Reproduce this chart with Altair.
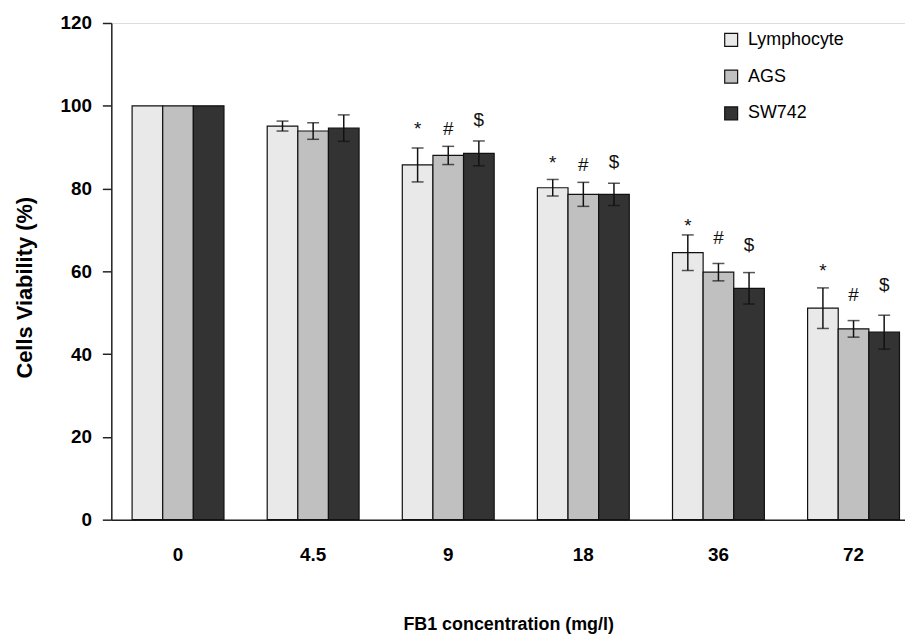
import altair as alt
import pandas as pd

concentrations = ["0", "4.5", "9", "18", "36", "72"]
cell_lines = ["Lymphocyte", "AGS", "SW742"]

lymphocyte = [100, 95.1, 85.7, 80.2, 64.5, 51.1]
lymphocyte_err = [0, 1.2, 4.1, 2.0, 4.3, 4.9]
ags = [100, 93.9, 88.0, 78.6, 59.8, 46.1]
ags_err = [0, 2.0, 2.2, 2.9, 2.1, 2.0]
sw742 = [100, 94.6, 88.5, 78.6, 55.9, 45.3]
sw742_err = [0, 3.2, 3.0, 2.7, 3.8, 4.1]

# significance markers and the value level at which each was printed
sig_symbols = {"Lymphocyte": "*", "AGS": "#", "SW742": "$"}
lymphocyte_sig_at = [None, None, 94.3, 86.1, 71.0, 60.1]
ags_sig_at = [None, None, 94.3, 85.7, 68.1, 54.2]
sw742_sig_at = [None, None, 96.5, 86.5, 66.3, 56.6]

fills = ["#e9e9e9", "#c0c0c0", "#333333"]

rows = []
for line, vals, errs, sigs in [
    ("Lymphocyte", lymphocyte, lymphocyte_err, lymphocyte_sig_at),
    ("AGS", ags, ags_err, ags_sig_at),
    ("SW742", sw742, sw742_err, sw742_sig_at),
]:
    for c, v, e, s in zip(concentrations, vals, errs, sigs):
        rows.append({
            "conc": c, "line": line, "value": v, "err": e,
            "lo": v - e, "hi": v + e,
            "sig": sig_symbols[line] if s is not None else "",
            "sig_at": s,
        })
df = pd.DataFrame(rows)

FONT = "Liberation Sans"

x = alt.X("conc:N", sort=concentrations,
          scale=alt.Scale(paddingInner=0.32, paddingOuter=0.0974, align=0.79),
          axis=alt.Axis(title="FB1 concentration (mg/l)", labelAngle=0,
                        ticks=False, tickSize=0, labelPadding=26,
                        titlePadding=52, titleFontSize=18, titleFontWeight="bold",
                        labelFontSize=19, labelFontWeight="bold",
                        labelColor="#000000", titleColor="#000000",
                        domainColor="#222222", domainWidth=1.5))
xo = alt.XOffset("line:N", sort=cell_lines,
                 scale=alt.Scale(paddingInner=0, paddingOuter=0))

base = alt.Chart(df)

bars = base.mark_bar(stroke="#111111", strokeWidth=1.2).encode(
    x=x, xOffset=xo,
    y=alt.Y("value:Q", scale=alt.Scale(domain=[0, 120], nice=False),
            axis=alt.Axis(title="Cells Viability (%)", values=[0, 20, 40, 60, 80, 100, 120],
                          grid=False, tickSize=9, labelPadding=11,
                          labelFontSize=19, labelFontWeight="bold",
                          labelColor="#000000", titleColor="#000000",
                          titleFontSize=22, titleFontWeight="bold", titlePadding=24,
                          titleY=266,
                          domainColor="#222222", domainWidth=1.5,
                          tickColor="#222222", tickWidth=1.5)),
    color=alt.Color("line:N", sort=cell_lines,
                    scale=alt.Scale(domain=cell_lines, range=fills),
                    legend=alt.Legend(title=None, orient="none", legendX=615, legendY=8,
                                      symbolType="square", symbolSize=169,
                                      symbolStrokeColor="#111111", symbolStrokeWidth=1.2,
                                      labelFontSize=18, labelFont=FONT, labelColor="#000000",
                                      rowPadding=19, labelOffset=8, padding=0)),
)

eb = base.transform_filter("datum.err > 0")

rules = eb.mark_rule(color="#111111", strokeWidth=1.5).encode(
    x=x, xOffset=xo, y="lo:Q", y2="hi:Q")
caps_hi = eb.mark_tick(color="#111111", thickness=1.5, size=12).encode(
    x=x, xOffset=xo, y="hi:Q")
caps_lo = eb.mark_tick(color="#111111", thickness=1.5, size=12).encode(
    x=x, xOffset=xo, y="lo:Q")

sig = base.transform_filter("datum.sig != ''").mark_text(
    font=FONT, fontSize=19, baseline="middle", color="#111111").encode(
    x=x, xOffset=xo, y="sig_at:Q", text="sig:N")

chart = alt.layer(bars, rules, caps_hi, caps_lo, sig).properties(
    width=799, height=500,
    padding={"left": 5, "top": 4, "right": 0, "bottom": 0},
).configure_view(stroke=None).configure(font=FONT)

chart.save("out.html", embed_options={"renderer": "svg", "actions": False})
